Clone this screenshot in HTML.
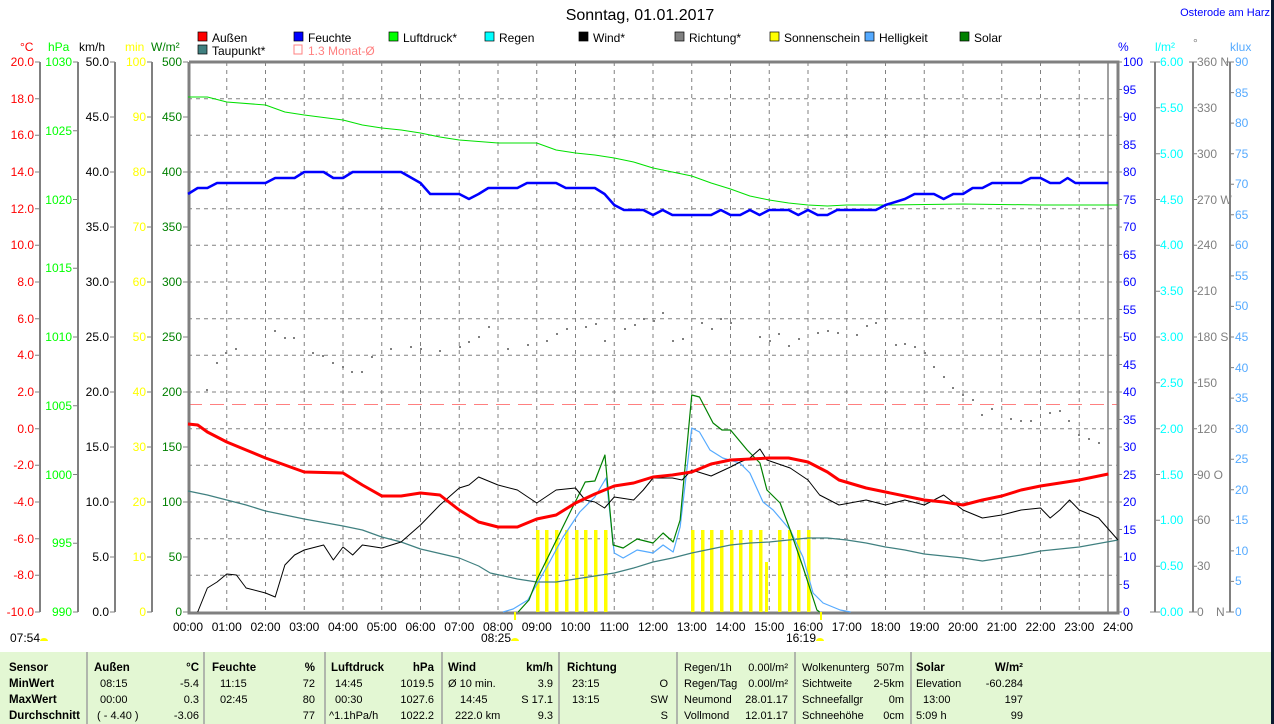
<!DOCTYPE html>
<html><head><meta charset="utf-8"><style>
html,body{margin:0;padding:0;background:#fff;}
svg{display:block;font-family:"Liberation Sans",sans-serif;}
</style></head><body>
<svg width="1274" height="724" viewBox="0 0 1274 724" xmlns="http://www.w3.org/2000/svg">
<rect x="0" y="0" width="1274" height="724" fill="#fff"/>
<text x="640" y="20" font-size="16" text-anchor="middle" fill="#000">Sonntag, 01.01.2017</text>
<text x="1270" y="16" font-size="11" text-anchor="end" fill="#0000ff">Osterode am Harz</text>

<g font-size="12">
<rect x="198" y="32" width="9" height="9" fill="#ff0000" stroke="#000" stroke-width="0.7"/><text x="212" y="42">Außen</text>
<rect x="294" y="32" width="9" height="9" fill="#0000ff" stroke="#000" stroke-width="0.7"/><text x="308" y="42">Feuchte</text>
<rect x="389" y="32" width="9" height="9" fill="#00ff00" stroke="#000" stroke-width="0.7"/><text x="403" y="42">Luftdruck*</text>
<rect x="485" y="32" width="9" height="9" fill="#00ffff" stroke="#000" stroke-width="0.7"/><text x="499" y="42">Regen</text>
<rect x="579" y="32" width="9" height="9" fill="#000" stroke="#000" stroke-width="0.7"/><text x="593" y="42">Wind*</text>
<rect x="675" y="32" width="9" height="9" fill="#808080" stroke="#000" stroke-width="0.7"/><text x="689" y="42">Richtung*</text>
<rect x="770" y="32" width="9" height="9" fill="#ffff00" stroke="#000" stroke-width="0.7"/><text x="784" y="42">Sonnenschein</text>
<rect x="865" y="32" width="9" height="9" fill="#55aaff" stroke="#000" stroke-width="0.7"/><text x="879" y="42">Helligkeit</text>
<rect x="960" y="32" width="9" height="9" fill="#008000" stroke="#000" stroke-width="0.7"/><text x="974" y="42">Solar</text>
<rect x="198" y="45" width="9" height="9" fill="#408080" stroke="#000" stroke-width="0.7"/><text x="212" y="55">Taupunkt*</text>
<rect x="294" y="45" width="8" height="9" fill="none" stroke="#ff8080" stroke-width="1"/><text x="308" y="55" fill="#ff8080">1.3 Monat-Ø</text>
</g>

<g font-size="12">
<text x="20" y="51" fill="#ff0000">°C</text>
<text x="48" y="51" fill="#00ff00">hPa</text>
<text x="79" y="51">km/h</text>
<text x="125" y="51" fill="#ffff00">min</text>
<text x="151" y="51" fill="#008000">W/m²</text>
<text x="1118" y="51" fill="#0000ff">%</text>
<text x="1155" y="51" fill="#00ffff">l/m²</text>
<text x="1193" y="47" fill="#808080">°</text>
<text x="1230" y="51" fill="#55aaff">klux</text>
</g>

<g stroke="#808080" stroke-width="1" stroke-dasharray="4,4">
<path d="M188 98.7H1118M188 135.3H1118M188 172H1118M188 208.7H1118M188 245.3H1118M188 282H1118M188 318.7H1118M188 355.3H1118M188 392H1118M188 428.7H1118M188 465.3H1118M188 502H1118M188 538.7H1118M188 575.3H1118"/>
<path d="M226.75 62V612M265.5 62V612M304.25 62V612M343 62V612M381.75 62V612M420.5 62V612M459.25 62V612M498 62V612M536.75 62V612M575.5 62V612M614.25 62V612M653 62V612M691.75 62V612M730.5 62V612M769.25 62V612M808 62V612M846.75 62V612M885.5 62V612M924.25 62V612M963 62V612M1001.75 62V612M1040.5 62V612M1079.25 62V612"/>
</g>
<line x1="188" y1="404.5" x2="1118" y2="404.5" stroke="#ff8080" stroke-width="1" stroke-dasharray="14,8"/>

<g stroke="#808080" stroke-width="2" fill="none">
<path d="M40 62V612M78 62V612M115 62V612M152 62V612M1155 62V612M1193 62V612M1230 62V612"/>
<path d="M1108 62V612" stroke-width="1.5"/>
<path d="M189 62V613H1118V62H189" stroke-width="3"/>
</g>
<g stroke="#808080" stroke-width="1">
<path d="M35 62H40M35 98.7H40M35 135.3H40M35 172H40M35 208.7H40M35 245.3H40M35 282H40M35 318.7H40M35 355.3H40M35 392H40M35 428.7H40M35 465.3H40M35 502H40M35 538.7H40M35 575.3H40M35 612H40"/>
<path d="M73 62H78M73 130.75H78M73 199.5H78M73 268.25H78M73 337H78M73 405.75H78M73 474.5H78M73 543.25H78M73 612H78"/>
<path d="M110 62H115M110 117H115M110 172H115M110 227H115M110 282H115M110 337H115M110 392H115M110 447H115M110 502H115M110 557H115M110 612H115"/>
<path d="M147 62H152M147 117H152M147 172H152M147 227H152M147 282H152M147 337H152M147 392H152M147 447H152M147 502H152M147 557H152M147 612H152"/>
<path d="M183 62H188M183 117H188M183 172H188M183 227H188M183 282H188M183 337H188M183 392H188M183 447H188M183 502H188M183 557H188M183 612H188"/>
<path d="M1118 62H1122M1118 89.5H1122M1118 117H1122M1118 144.5H1122M1118 172H1122M1118 199.5H1122M1118 227H1122M1118 254.5H1122M1118 282H1122M1118 309.5H1122M1118 337H1122M1118 364.5H1122M1118 392H1122M1118 419.5H1122M1118 447H1122M1118 474.5H1122M1118 502H1122M1118 529.5H1122M1118 557H1122M1118 584.5H1122M1118 612H1122"/>
<path d="M1150 62H1160M1155 107.8H1160M1155 153.7H1160M1155 199.5H1160M1155 245.3H1160M1155 291.2H1160M1155 337H1160M1155 382.8H1160M1155 428.7H1160M1155 474.5H1160M1155 520.3H1160M1155 566.2H1160M1150 612H1160"/>
<path d="M1189 62H1197M1193 107.8H1197M1193 153.7H1197M1193 199.5H1197M1193 245.3H1197M1193 291.2H1197M1193 337H1197M1193 382.8H1197M1193 428.7H1197M1193 474.5H1197M1193 520.3H1197M1193 566.2H1197M1189 612H1197"/>
<path d="M1226 62H1234M1230 92.6H1234M1230 123.1H1234M1230 153.7H1234M1230 184.2H1234M1230 214.8H1234M1230 245.3H1234M1230 275.9H1234M1230 306.4H1234M1230 337H1234M1230 367.6H1234M1230 398.1H1234M1230 428.7H1234M1230 459.2H1234M1230 489.8H1234M1230 520.3H1234M1230 550.9H1234M1230 581.4H1234M1226 612H1234"/>
</g>

<g font-size="12" text-anchor="end" fill="#ff0000">
<text x="34" y="66">20.0</text><text x="34" y="103">18.0</text><text x="34" y="139">16.0</text><text x="34" y="176">14.0</text><text x="34" y="213">12.0</text><text x="34" y="249">10.0</text><text x="34" y="286">8.0</text><text x="34" y="323">6.0</text><text x="34" y="359">4.0</text><text x="34" y="396">2.0</text><text x="34" y="433">0.0</text><text x="34" y="469">-2.0</text><text x="34" y="506">-4.0</text><text x="34" y="543">-6.0</text><text x="34" y="579">-8.0</text><text x="34" y="616">-10.0</text>
</g>
<g font-size="12" text-anchor="end" fill="#00ff00">
<text x="72" y="66">1030</text><text x="72" y="135">1025</text><text x="72" y="204">1020</text><text x="72" y="272">1015</text><text x="72" y="341">1010</text><text x="72" y="410">1005</text><text x="72" y="479">1000</text><text x="72" y="547">995</text><text x="72" y="616">990</text>
</g>
<g font-size="12" text-anchor="end" fill="#000">
<text x="109" y="66">50.0</text><text x="109" y="121">45.0</text><text x="109" y="176">40.0</text><text x="109" y="231">35.0</text><text x="109" y="286">30.0</text><text x="109" y="341">25.0</text><text x="109" y="396">20.0</text><text x="109" y="451">15.0</text><text x="109" y="506">10.0</text><text x="109" y="561">5.0</text><text x="109" y="616">0.0</text>
</g>
<g font-size="12" text-anchor="end" fill="#ffff00">
<text x="146" y="66">100</text><text x="146" y="121">90</text><text x="146" y="176">80</text><text x="146" y="231">70</text><text x="146" y="286">60</text><text x="146" y="341">50</text><text x="146" y="396">40</text><text x="146" y="451">30</text><text x="146" y="506">20</text><text x="146" y="561">10</text><text x="146" y="616">0</text>
</g>
<g font-size="12" text-anchor="end" fill="#008000">
<text x="182" y="66">500</text><text x="182" y="121">450</text><text x="182" y="176">400</text><text x="182" y="231">350</text><text x="182" y="286">300</text><text x="182" y="341">250</text><text x="182" y="396">200</text><text x="182" y="451">150</text><text x="182" y="506">100</text><text x="182" y="561">50</text><text x="182" y="616">0</text>
</g>
<g font-size="12" fill="#0000ff">
<text x="1123" y="66">100</text><text x="1123" y="94">95</text><text x="1123" y="121">90</text><text x="1123" y="149">85</text><text x="1123" y="176">80</text><text x="1123" y="204">75</text><text x="1123" y="231">70</text><text x="1123" y="259">65</text><text x="1123" y="286">60</text><text x="1123" y="314">55</text><text x="1123" y="341">50</text><text x="1123" y="369">45</text><text x="1123" y="396">40</text><text x="1123" y="424">35</text><text x="1123" y="451">30</text><text x="1123" y="479">25</text><text x="1123" y="506">20</text><text x="1123" y="534">15</text><text x="1123" y="561">10</text><text x="1123" y="589">5</text><text x="1123" y="616">0</text>
</g>
<g font-size="12" fill="#00ffff">
<text x="1160" y="66">6.00</text><text x="1160" y="112">5.50</text><text x="1160" y="158">5.00</text><text x="1160" y="204">4.50</text><text x="1160" y="249">4.00</text><text x="1160" y="295">3.50</text><text x="1160" y="341">3.00</text><text x="1160" y="387">2.50</text><text x="1160" y="433">2.00</text><text x="1160" y="479">1.50</text><text x="1160" y="524">1.00</text><text x="1160" y="570">0.50</text><text x="1160" y="616">0.00</text>
</g>
<g font-size="12" fill="#808080">
<text x="1197" y="66">360 N</text><text x="1197" y="112">330</text><text x="1197" y="158">300</text><text x="1197" y="204">270 W</text><text x="1197" y="249">240</text><text x="1197" y="295">210</text><text x="1197" y="341">180 S</text><text x="1197" y="387">150</text><text x="1197" y="433">120</text><text x="1197" y="479">90 O</text><text x="1197" y="524">60</text><text x="1197" y="570">30</text><text x="1197" y="616">0</text><text x="1216" y="616">N</text>
</g>
<g font-size="12" fill="#55aaff">
<text x="1235" y="66">90</text><text x="1235" y="97">85</text><text x="1235" y="127">80</text><text x="1235" y="158">75</text><text x="1235" y="188">70</text><text x="1235" y="219">65</text><text x="1235" y="249">60</text><text x="1235" y="280">55</text><text x="1235" y="310">50</text><text x="1235" y="341">45</text><text x="1235" y="372">40</text><text x="1235" y="402">35</text><text x="1235" y="433">30</text><text x="1235" y="463">25</text><text x="1235" y="494">20</text><text x="1235" y="524">15</text><text x="1235" y="555">10</text><text x="1235" y="585">5</text><text x="1235" y="616">0</text>
</g>

<g font-size="12" text-anchor="middle">
<text x="188" y="631">00:00</text><text x="226.75" y="631">01:00</text><text x="265.5" y="631">02:00</text><text x="304.25" y="631">03:00</text><text x="343" y="631">04:00</text><text x="381.75" y="631">05:00</text><text x="420.5" y="631">06:00</text><text x="459.25" y="631">07:00</text><text x="498" y="631">08:00</text><text x="536.75" y="631">09:00</text><text x="575.5" y="631">10:00</text><text x="614.25" y="631">11:00</text><text x="653" y="631">12:00</text><text x="691.75" y="631">13:00</text><text x="730.5" y="631">14:00</text><text x="769.25" y="631">15:00</text><text x="808" y="631">16:00</text><text x="846.75" y="631">17:00</text><text x="885.5" y="631">18:00</text><text x="924.25" y="631">19:00</text><text x="963" y="631">20:00</text><text x="1001.75" y="631">21:00</text><text x="1040.5" y="631">22:00</text><text x="1079.25" y="631">23:00</text><text x="1118" y="631">24:00</text>
</g>
<g font-size="12">
<text x="10" y="642">07:54</text><path d="M40 641 a4 3 0 0 1 8 0z" fill="#ffff00"/>
<text x="481" y="642">08:25</text><path d="M511 641 a4 3 0 0 1 8 0z" fill="#ffff00"/>
<text x="786" y="642">16:19</text><path d="M816 641 a4 3 0 0 1 8 0z" fill="#ffff00"/>
</g>

<g fill="#ffff00">
<rect x="536" y="530" width="3.5" height="82"/><rect x="545" y="530" width="3.5" height="82"/><rect x="555" y="530" width="3.5" height="82"/><rect x="565" y="530" width="3.5" height="82"/><rect x="575" y="530" width="3.5" height="82"/><rect x="584" y="530" width="3.5" height="82"/><rect x="594" y="530" width="3.5" height="82"/><rect x="604" y="530" width="3.5" height="82"/>
<rect x="691" y="530" width="3.5" height="82"/><rect x="701" y="530" width="3.5" height="82"/><rect x="710" y="530" width="3.5" height="82"/><rect x="720" y="530" width="3.5" height="82"/><rect x="730" y="530" width="3.5" height="82"/><rect x="739" y="530" width="3.5" height="82"/><rect x="749" y="530" width="3.5" height="82"/><rect x="759" y="530" width="3.5" height="82"/><rect x="765" y="562" width="3" height="50"/><rect x="778" y="530" width="3.5" height="82"/><rect x="788" y="530" width="3.5" height="82"/><rect x="797" y="530" width="3.5" height="82"/><rect x="807" y="530" width="3.5" height="82"/>
<rect x="514" y="612" width="2" height="8"/><rect x="820" y="612" width="2" height="8"/>
</g>

<g fill="#808080">
<rect x="206" y="389" width="2" height="2"/><rect x="216" y="362" width="2" height="2"/><rect x="225" y="352" width="2" height="2"/><rect x="235" y="348" width="2" height="2"/><rect x="274" y="330" width="2" height="2"/><rect x="284" y="337" width="2" height="2"/><rect x="293" y="337" width="2" height="2"/><rect x="312" y="352" width="2" height="2"/><rect x="322" y="355" width="2" height="2"/><rect x="332" y="362" width="2" height="2"/><rect x="342" y="366" width="2" height="2"/><rect x="351" y="371" width="2" height="2"/><rect x="361" y="371" width="2" height="2"/><rect x="371" y="356" width="2" height="2"/><rect x="390" y="348" width="2" height="2"/><rect x="410" y="346" width="2" height="2"/><rect x="420" y="348" width="2" height="2"/><rect x="439" y="350" width="2" height="2"/><rect x="459" y="346" width="2" height="2"/><rect x="468" y="341" width="2" height="2"/><rect x="478" y="336" width="2" height="2"/><rect x="488" y="326" width="2" height="2"/><rect x="507" y="348" width="2" height="2"/><rect x="527" y="344" width="2" height="2"/><rect x="546" y="340" width="2" height="2"/><rect x="556" y="333" width="2" height="2"/><rect x="566" y="328" width="2" height="2"/><rect x="585" y="326" width="2" height="2"/><rect x="595" y="323" width="2" height="2"/><rect x="604" y="340" width="2" height="2"/><rect x="624" y="328" width="2" height="2"/><rect x="634" y="324" width="2" height="2"/><rect x="643" y="318" width="2" height="2"/><rect x="653" y="320" width="2" height="2"/><rect x="662" y="312" width="2" height="2"/><rect x="672" y="340" width="2" height="2"/><rect x="682" y="338" width="2" height="2"/><rect x="701" y="322" width="2" height="2"/><rect x="711" y="328" width="2" height="2"/><rect x="720" y="318" width="2" height="2"/><rect x="730" y="322" width="2" height="2"/><rect x="759" y="336" width="2" height="2"/><rect x="769" y="340" width="2" height="2"/><rect x="778" y="333" width="2" height="2"/><rect x="788" y="345" width="2" height="2"/><rect x="798" y="338" width="2" height="2"/><rect x="817" y="332" width="2" height="2"/><rect x="827" y="330" width="2" height="2"/><rect x="837" y="332" width="2" height="2"/><rect x="856" y="334" width="2" height="2"/><rect x="866" y="325" width="2" height="2"/><rect x="875" y="322" width="2" height="2"/><rect x="895" y="344" width="2" height="2"/><rect x="904" y="343" width="2" height="2"/><rect x="914" y="346" width="2" height="2"/><rect x="924" y="352" width="2" height="2"/><rect x="933" y="366" width="2" height="2"/><rect x="943" y="376" width="2" height="2"/><rect x="952" y="387" width="2" height="2"/><rect x="962" y="394" width="2" height="2"/><rect x="972" y="399" width="2" height="2"/><rect x="981" y="414" width="2" height="2"/><rect x="991" y="408" width="2" height="2"/><rect x="1010" y="418" width="2" height="2"/><rect x="1020" y="420" width="2" height="2"/><rect x="1030" y="420" width="2" height="2"/><rect x="1049" y="412" width="2" height="2"/><rect x="1059" y="410" width="2" height="2"/><rect x="1068" y="420" width="2" height="2"/><rect x="1078" y="434" width="2" height="2"/><rect x="1088" y="438" width="2" height="2"/><rect x="1098" y="442" width="2" height="2"/>
</g>

<g transform="translate(188,0) scale(38.75,1)" fill="none" stroke-linejoin="round">
<polyline vector-effect="non-scaling-stroke" stroke="#00e000" stroke-width="1" points="0,97 0.5,97 1,102 2,105 2.5,112 3,115 4,120 4.5,125 5,128 5.5,130 6,133 6.5,137 7,140 8,143 9,143 9.5,150 10,153 10.5,155 11,158 11.5,162 12,168 12.5,172 13,176 13.5,183 14,189 14.5,196 15,200 15.5,203 16,205 16.5,206 17,205 18,205 20,204 22,205 24,205"/>
<polyline vector-effect="non-scaling-stroke" stroke="#408080" stroke-width="1.2" points="0,491 0.5,495 1,500 1.5,505 2,511 3,519 4,526 4.5,530 5,537 5.5,542 6,549 7,558 7.5,566 7.8,573 8.5,579 9,582 9.5,582 10,579 10.5,576 11,573 11.5,568 12,562 12.5,558 13,553 13.5,549 14,545 14.5,543 15,542 15.5,540 16,538 16.5,538 17,540 17.5,543 18,547 18.5,550 19,554 19.5,556 20,558 20.5,561 21,558 21.5,555 22,551 23,547 24,540"/>
<polyline vector-effect="non-scaling-stroke" stroke="#55aaff" stroke-width="1.2" points="8.13,612 8.39,609 8.77,600 9.26,567 9.68,537 10.11,512 10.5,497 10.79,478 11,553 11.23,558 11.59,550 12,553 12.26,545 12.52,552 12.7,527 13,428 13.2,432 13.47,450 13.8,458 14.24,463 14.5,473 14.84,502 15.1,510 15.54,530 15.87,557 16.13,593 16.39,603 16.83,610 17.1,612"/>
<polyline vector-effect="non-scaling-stroke" stroke="#008000" stroke-width="1.2" points="8.52,612 8.8,600 9,580 9.8,517 10.25,482 10.5,481 10.76,455 10.97,545 11.23,548 11.59,539 12,543 12.26,533 12.52,542 12.7,520 13,395 13.2,397 13.55,423 13.78,430 14,430 14.43,450 14.76,463 14.94,490 15.28,503 15.54,530 15.87,567 16.23,610 16.3,612"/>
<polyline vector-effect="non-scaling-stroke" stroke="#000" stroke-width="1" points="0.25,612 0.5,588 0.75,582 1,574 1.25,575 1.5,588 2,593 2.25,597 2.5,565 2.75,555 3,550 3.5,545 3.75,560 4,547 4.25,555 4.5,545 5,548 5.5,542 6,525 6.5,505 7,488 7.25,485 7.5,477 8,485 8.5,490 9,503 9.5,490 10,488 10.25,500 10.5,502 10.75,508 11,497 11.5,500 11.75,490 12,478 12.5,478 12.75,480 13,470 13.5,476 14,467 14.25,462 14.5,458 14.76,449 14.94,460 15.54,468 16,480 16.3,495 16.8,505 17.5,500 18,505 18.5,500 19,505 19.5,495 20,510 20.5,518 21,515 21.5,510 22,508 22.25,518 22.5,510 22.75,500 23,510 23.5,518 24,540"/>
<polyline vector-effect="non-scaling-stroke" stroke="#ff0000" stroke-width="3" points="0,424 0.25,425 0.5,432 1,442 1.5,450 2,458 2.5,465 3,472 4,473 4.5,485 5,496 5.5,496 6,493 6.5,495 7,510 7.5,522 8,527 8.5,527 9,519 9.5,515 10,503 10.5,494 11,486 11.5,483 12,477 12.5,475 13,472 13.5,464 14,460 15,458 15.5,458 16,462 16.5,472 16.8,480 17.5,488 18,492 19,500 19.5,502 20,505 20.5,500 21,496 21.5,490 22,486 23,480 23.75,474"/>
<polyline vector-effect="non-scaling-stroke" stroke="#0000ff" stroke-width="2.5" points="0,194 0.25,188 0.5,188 0.75,183 2,183 2.25,178 2.75,178 3,172 3.5,172 3.75,178 4,178 4.25,172 5.5,172 6,183 6.25,194 7,194 7.25,199 7.5,194 7.75,188 8.5,188 8.75,183 9.5,183 9.75,188 10.5,188 10.75,194 11,205 11.25,210 11.75,210 12,215 12.25,210 12.5,215 13.5,215 13.75,210 14,215 14.25,215 14.5,210 14.75,215 15,210 15.5,210 15.75,215 16,210 16.25,215 16.5,215 16.75,210 17.75,210 18,205 18.5,199 18.75,194 19.25,194 19.5,199 19.75,194 20,194 20.25,188 20.5,188 20.75,183 21.5,183 21.75,178 22,178 22.25,183 22.5,183 22.7,178 22.9,183 23.75,183"/>
</g>

<!-- table -->
<rect x="0" y="652" width="1271" height="72" fill="#e3f7d3"/>
<g stroke="#a0a0a0" stroke-width="1.5">
<path d="M87 652V724M204 652V724M325 652V724M442 652V724M559 652V724M677 652V724M795 652V724M911 652V724"/>
</g>
<rect x="1271" y="0" width="3" height="724" fill="#0a1a30"/>
<g font-size="11" fill="#000">
<g font-weight="bold" font-size="11.5">
<text x="9" y="671">Sensor</text><text x="9" y="687">MinWert</text><text x="9" y="703">MaxWert</text><text x="9" y="719">Durchschnitt</text>
<text x="94" y="671">Außen</text><text x="212" y="671">Feuchte</text><text x="331" y="671">Luftdruck</text><text x="448" y="671">Wind</text><text x="567" y="671">Richtung</text><text x="916" y="671">Solar</text>
<text x="199" y="671" text-anchor="end">°C</text><text x="315" y="671" text-anchor="end">%</text><text x="434" y="671" text-anchor="end">hPa</text><text x="553" y="671" text-anchor="end">km/h</text><text x="1023" y="671" text-anchor="end">W/m²</text>
</g>
<text x="100" y="687">08:15</text><text x="100" y="703">00:00</text><text x="97" y="719">( - 4.40 )</text>
<text x="199" y="687" text-anchor="end">-5.4</text><text x="199" y="703" text-anchor="end">0.3</text><text x="199" y="719" text-anchor="end">-3.06</text>
<text x="220" y="687">11:15</text><text x="220" y="703">02:45</text>
<text x="315" y="687" text-anchor="end">72</text><text x="315" y="703" text-anchor="end">80</text><text x="315" y="719" text-anchor="end">77</text>
<text x="335" y="687">14:45</text><text x="335" y="703">00:30</text><text x="329" y="719">^1.1hPa/h</text>
<text x="434" y="687" text-anchor="end">1019.5</text><text x="434" y="703" text-anchor="end">1027.6</text><text x="434" y="719" text-anchor="end">1022.2</text>
<text x="448" y="687">Ø 10 min.</text><text x="460" y="703">14:45</text><text x="455" y="719">222.0 km</text>
<text x="553" y="687" text-anchor="end">3.9</text><text x="553" y="703" text-anchor="end">S 17.1</text><text x="553" y="719" text-anchor="end">9.3</text>
<text x="572" y="687">23:15</text><text x="572" y="703">13:15</text>
<text x="668" y="687" text-anchor="end">O</text><text x="668" y="703" text-anchor="end">SW</text><text x="668" y="719" text-anchor="end">S</text>
<text x="684" y="671">Regen/1h</text><text x="684" y="687">Regen/Tag</text><text x="684" y="703">Neumond</text><text x="684" y="719">Vollmond</text>
<text x="788" y="671" text-anchor="end">0.00l/m²</text><text x="788" y="687" text-anchor="end">0.00l/m²</text><text x="788" y="703" text-anchor="end">28.01.17</text><text x="788" y="719" text-anchor="end">12.01.17</text>
<text x="802" y="671">Wolkenunterg</text><text x="802" y="687">Sichtweite</text><text x="802" y="703">Schneefallgr</text><text x="802" y="719">Schneehöhe</text>
<text x="904" y="671" text-anchor="end">507m</text><text x="904" y="687" text-anchor="end">2-5km</text><text x="904" y="703" text-anchor="end">0m</text><text x="904" y="719" text-anchor="end">0cm</text>
<text x="916" y="687">Elevation</text><text x="923" y="703">13:00</text><text x="916" y="719">5:09 h</text>
<text x="1023" y="687" text-anchor="end">-60.284</text><text x="1023" y="703" text-anchor="end">197</text><text x="1023" y="719" text-anchor="end">99</text>
</g>
</svg>
</body></html>
